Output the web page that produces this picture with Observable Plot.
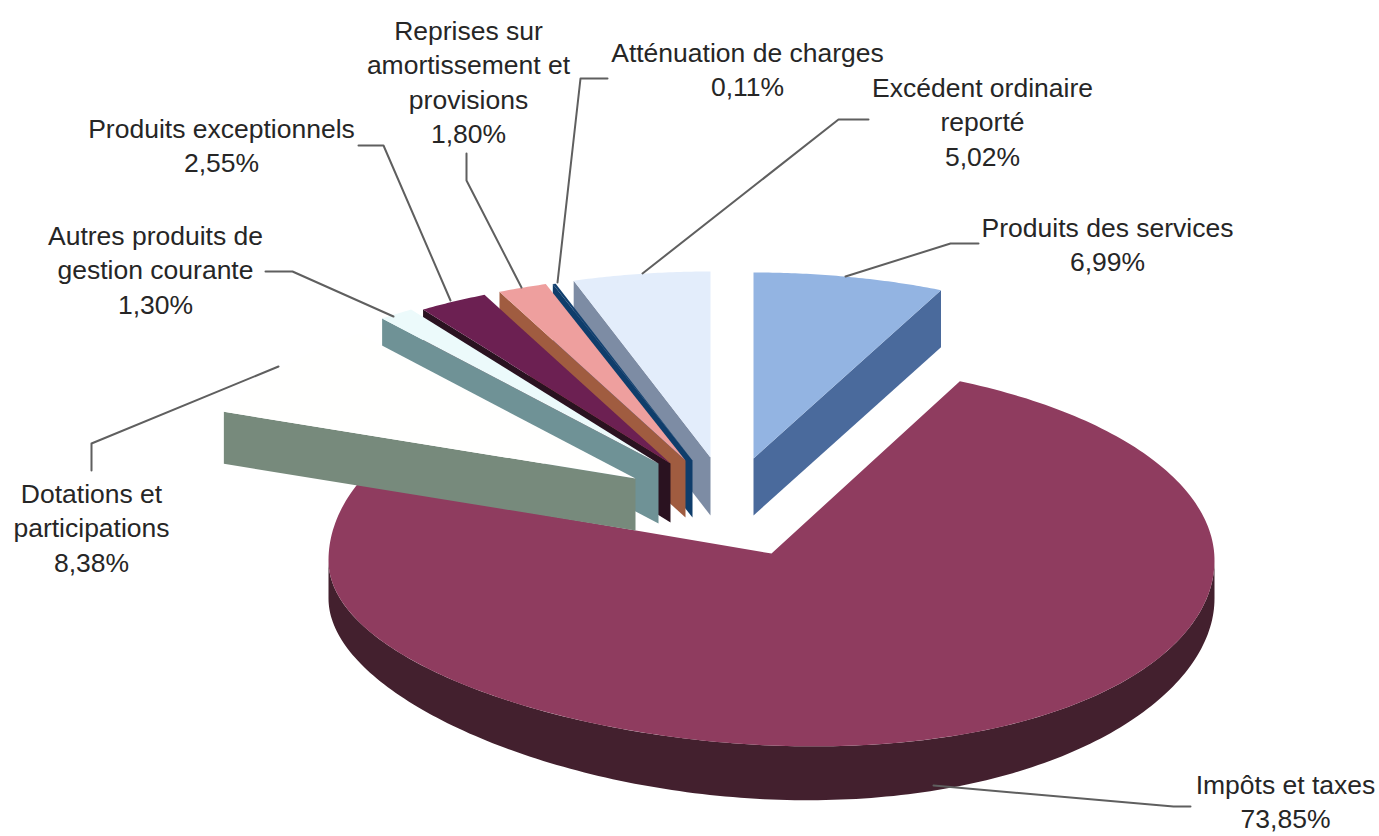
<!DOCTYPE html>
<html lang="fr">
<head>
<meta charset="utf-8">
<title>Répartition des recettes</title>
<script src="https://cdn.jsdelivr.net/npm/d3@7"></script>
<script src="https://cdn.jsdelivr.net/npm/@observablehq/plot@0.6"></script>
<style>
  html, body { margin: 0; padding: 0; background: #fff; }
  svg { display: block; }
</style>
</head>
<body>
<div id="chart"></div>
<script>
// Clockwise from twelve o'clock, in percent.
const categories = [
  "Produits des services", "Impôts et taxes", "Dotations et\nparticipations",
  "Autres produits de\ngestion courante", "Produits exceptionnels",
  "Reprises sur\namortissement et\nprovisions", "Atténuation de charges",
  "Excédent ordinaire\nreporté"
];
const shares = [6.99, 73.85, 8.38, 1.30, 2.55, 1.80, 0.11, 5.02];

// Face colours of each slice: upper surface, then side wall.
const topColors  = ["#93b4e2", "#8f3c5f", "#fffffe", "#ecfafb", "#6c2052", "#ee9f9e", "#12406f", "#e3edfb"];
const wallColors = ["#4a6a9c", "#43202e", "#778a7c", "#6f9296", "#2a1220", "#a05c40", "#0f3d6b", "#7d8ca4"];

// Where each wedge tip sits once pulled out of the pie.
const tipX = [753, 771, 635, 658, 670, 685, 692, 710];
const tipY = [458, 553, 478, 463, 463, 460, 460, 457];
const wallHeight = [57, 54, 52, 60, 59, 57, 57, 58];

// Centre of each label's first line and its leader line, in chart units.
const labelX = [1107, 1285, 91, 155, 221, 468, 747, 982];
const labelY = [225, 782, 491, 233, 126, 28, 50, 85];
const leaders = [
  [[978, 243], [950, 243], [845, 276]],
  [[1190, 806], [1173, 806], [933, 785]],
  [[91, 470], [91, 443], [278, 366]],
  [[265, 271], [292, 271], [393, 316]],
  [[358, 145], [383, 145], [450, 300]],
  [[466, 153], [466, 180], [521, 287]],
  [[607, 78], [580, 78], [557, 282]],
  [[868, 119], [838, 119], [642, 273]]
];

const width = 1379, height = 836;
const fontSize = 26.5, lineGap = 34.5;

// Slices pulled out of the pie share one foreshortened radius pair.
const pulled = {rx: 441, ry: 186};
// The large slice stays in place; its rim is a slightly uneven ellipse.
const rim = {cx: 771, cy: 560, rx: 443, ryBack: 198, ryFront: 185, skew: 9, sideWall: 38};

const slices = d3.pairs(d3.cumsum([0, ...shares]).map((s) => (s / 100) * 2 * Math.PI))
  .map(([a0, a1], i) => ({i, a0, a1, share: shares[i]}));

const rad = (deg) => (deg * Math.PI) / 180;
const arcAngles = (a0, a1, step = rad(1)) => {
  const n = Math.max(1, Math.ceil((a1 - a0) / step));
  return d3.range(n + 1).map((k) => a0 + ((a1 - a0) * k) / n);
};

// Position on the rim of the large slice at angle a, with depth drop.
function rimPoint(a, drop = 0) {
  const c = Math.cos(a), s = Math.sin(a);
  const ry = c > 0 ? rim.ryBack : rim.ryFront;
  const bend = rim.skew * Math.abs(Math.sin(2 * a));
  const lean = s < 0 ? -bend : c < 0 ? bend : 0;
  return {x: rim.cx + rim.rx * s, y: rim.cy - ry * c + lean + drop};
}
// The wall of the large slice looks shallower towards the sides of the pie.
const rimDrop = (a) => rim.sideWall + (wallHeight[1] - rim.sideWall) * Math.cos(a) ** 2;

// Position on the rim of a pulled-out slice.
const pulledPoint = (d, a, drop = 0) => ({
  x: tipX[d.i] + pulled.rx * Math.sin(a),
  y: tipY[d.i] - pulled.ry * Math.cos(a) + drop
});

const tip = (d, drop = 0) => ({x: tipX[d.i], y: tipY[d.i] + drop});
const face = (pts, fill) => Plot.line(pts, {x: "x", y: "y", fill, stroke: "none", curve: "linear"});

// Large slice: outer wall along the visible front arc, then the upper surface.
const big = slices[1];
const frontArc = arcAngles(rad(90), rad(270));
const bigMarks = [
  face(
    [...frontArc.map((a) => rimPoint(a)), ...frontArc.slice().reverse().map((a) => rimPoint(a, rimDrop(a)))],
    wallColors[1]
  ),
  face([tip(big), ...arcAngles(big.a0, big.a1).map((a) => rimPoint(a))], topColors[1])
];

// Pulled-out slices: the wall sits under the radial edge facing the viewer.
function sliceMarks(d) {
  const edge = d.i === 0 ? d.a1 : d.a0;
  const h = wallHeight[d.i];
  return [
    face([pulledPoint(d, edge), tip(d), tip(d, h), pulledPoint(d, edge, h)], wallColors[d.i]),
    face([tip(d), ...arcAngles(d.a0, d.a1, rad(0.5)).map((a) => pulledPoint(d, a))], topColors[d.i])
  ];
}

// Painted from right to left so each slice overlaps its clockwise-later neighbour.
const drawOrder = [0, 7, 6, 5, 4, 3, 2];

const percent = (v) => v.toFixed(2).replace(".", ",") + "%";
const labels = slices.map((d) => {
  const text = `${categories[d.i]}\n${percent(d.share)}`;
  const lines = text.split("\n").length;
  return {text, x: labelX[d.i], y: labelY[d.i] + ((lines - 1) / 2) * lineGap};
});

const leaderRows = leaders.flatMap((path, id) => path.map(([x, y]) => ({id, x, y})));

const chart = Plot.plot({
  width,
  height,
  margin: 0,
  x: {domain: [0, width], range: [0, width], axis: null},
  y: {domain: [0, height], range: [0, height], axis: null},
  style: {background: "#fff"},
  marks: [
    ...bigMarks,
    ...drawOrder.flatMap((i) => sliceMarks(slices[i])),
    Plot.line(leaderRows, {x: "x", y: "y", z: "id", stroke: "#5f5f5f", strokeWidth: 2, curve: "linear"}),
    Plot.text(labels, {
      x: "x",
      y: "y",
      text: "text",
      lineAnchor: "middle",
      lineHeight: lineGap / fontSize,
      textAnchor: "middle",
      fontSize,
      fontFamily: "'Liberation Sans', Arial, sans-serif",
      fill: "#262626"
    })
  ]
});
document.getElementById("chart").append(chart);
</script>
</body>
</html>
